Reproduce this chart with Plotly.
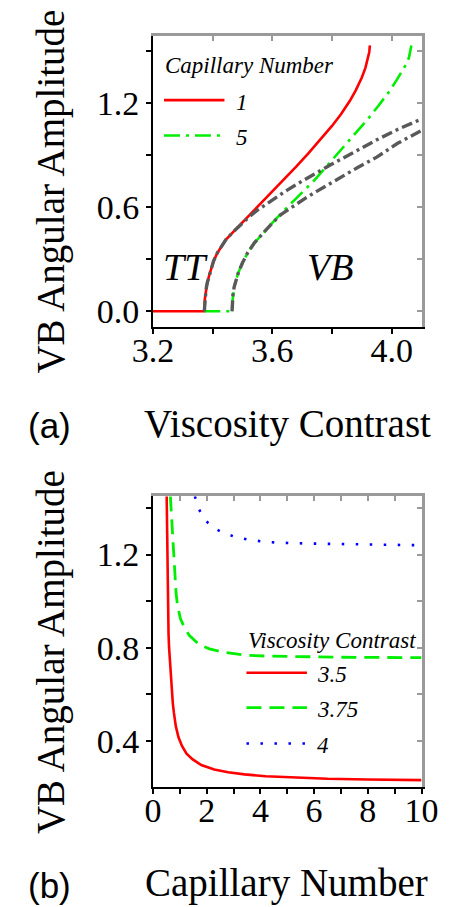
import plotly.graph_objects as go

# ---------------- data: panel (a) ----------------
ve_ca1 = [3.2, 3.372, 3.374, 3.378, 3.382, 3.388, 3.395, 3.403, 3.415, 3.43, 3.444, 3.47,
          3.495, 3.52, 3.547, 3.575, 3.6, 3.64, 3.68, 3.72, 3.76, 3.80, 3.83, 3.86, 3.88,
          3.90, 3.912, 3.92, 3.925, 3.927]
amp_ca1 = [0.0, 0.0, 0.074, 0.128, 0.165, 0.205, 0.245, 0.29, 0.335, 0.378, 0.413, 0.46,
           0.504, 0.548, 0.596, 0.645, 0.69, 0.762, 0.835, 0.91, 0.988, 1.07, 1.138, 1.215,
           1.277, 1.35, 1.405, 1.455, 1.497, 1.535]

ve_ca5 = [3.372, 3.465, 3.466, 3.468, 3.472, 3.478, 3.486, 3.5, 3.517, 3.54, 3.568, 3.6,
          3.63, 3.665, 3.702, 3.74, 3.774, 3.81, 3.846, 3.88, 3.918, 3.955, 3.99, 4.015,
          4.037, 4.05, 4.058, 4.063, 4.066]
amp_ca5 = [0.0, 0.0, 0.05, 0.095, 0.14, 0.18, 0.222, 0.28, 0.337, 0.395, 0.451, 0.51,
           0.566, 0.625, 0.685, 0.755, 0.822, 0.893, 0.963, 1.03, 1.105, 1.185, 1.265, 1.33,
           1.39, 1.43, 1.465, 1.50, 1.535]

ve_g1 = [3.372, 3.374, 3.378, 3.382, 3.388, 3.395, 3.403, 3.415, 3.43, 3.444, 3.47, 3.495,
         3.52, 3.55, 3.6, 3.65, 3.7, 3.75, 3.8, 3.886, 3.95, 4.02, 4.1]
amp_g1 = [0.0, 0.074, 0.128, 0.165, 0.205, 0.245, 0.29, 0.335, 0.378, 0.413, 0.46, 0.504,
          0.542, 0.584, 0.645, 0.70, 0.752, 0.802, 0.85, 0.93, 0.99, 1.05, 1.11]

ve_g2 = [3.465, 3.466, 3.468, 3.472, 3.478, 3.486, 3.5, 3.517, 3.54, 3.568, 3.6, 3.63,
         3.67, 3.71, 3.75, 3.8, 3.886, 3.95, 4.02, 4.1]
amp_g2 = [0.0, 0.05, 0.095, 0.14, 0.18, 0.222, 0.28, 0.337, 0.395, 0.451, 0.51, 0.56,
          0.608, 0.652, 0.694, 0.745, 0.83, 0.89, 0.97, 1.044]

# ---------------- data: panel (b) ----------------
ca_35 = [0.51, 0.52, 0.53, 0.546, 0.56, 0.58, 0.6, 0.625, 0.66, 0.705, 0.74, 0.78, 0.85,
         0.95, 1.08, 1.25, 1.48, 1.8, 2.28, 2.8, 3.41, 4.2, 5.3, 6.5, 8.0, 10.0]
amp_35 = [1.45, 1.32, 1.2, 1.036, 0.94, 0.86, 0.80, 0.75, 0.675, 0.607, 0.56, 0.52, 0.463,
          0.415, 0.378, 0.345, 0.32, 0.296, 0.277, 0.265, 0.256, 0.248, 0.242, 0.237,
          0.234, 0.231]

ca_375 = [0.648, 0.675, 0.705, 0.74, 0.78, 0.819, 0.86, 0.91, 0.96, 1.02, 1.14, 1.35,
          1.71, 2.1, 2.62, 3.41, 4.2, 5.5, 7.0, 8.5, 10.0]
amp_375 = [1.45, 1.40, 1.34, 1.24, 1.16, 1.10, 1.035, 0.985, 0.95, 0.925, 0.895, 0.853,
           0.814, 0.795, 0.781, 0.768, 0.764, 0.761, 0.759, 0.758, 0.757]

ca_4 = [1.56, 1.71, 1.85, 2.05, 2.25, 2.5, 2.98, 3.5, 4.2, 5.2, 6.5, 8.0, 10.0]
amp_4 = [1.45, 1.396, 1.362, 1.336, 1.315, 1.30, 1.279, 1.265, 1.254, 1.249, 1.246,
         1.243, 1.24]

legend_a_title = "Capillary Number"
legend_a_labels = ["1", "5"]
legend_b_title = "Viscosity Contrast"
legend_b_labels = ["3.5", "3.75", "4"]

RED = "#ff0000"
GREEN = "#00ee00"
BLUE = "#0000ff"
GRAY = "#595959"
FRAME = "#9a9a9a"
SERIF = "Liberation Serif"

fig = go.Figure()

# panel (a)
fig.add_trace(go.Scatter(x=ve_ca1, y=amp_ca1, mode="lines", xaxis="x", yaxis="y",
                         line=dict(color=RED, width=2.6), name=legend_a_labels[0]))
fig.add_trace(go.Scatter(x=ve_ca5, y=amp_ca5, mode="lines", xaxis="x", yaxis="y",
                         line=dict(color=GREEN, width=2.6, dash="16px,6px,3px,6px"),
                         name=legend_a_labels[1]))
fig.add_trace(go.Scatter(x=ve_g1, y=amp_g1, mode="lines", xaxis="x3", yaxis="y3",
                         line=dict(color=GRAY, width=3.4, dash="11px,4px,3px,4px"),
                         showlegend=False))
fig.add_trace(go.Scatter(x=ve_g2, y=amp_g2, mode="lines", xaxis="x3", yaxis="y3",
                         line=dict(color=GRAY, width=3.4, dash="11px,4px,3px,4px"),
                         showlegend=False))

# panel (b)
fig.add_trace(go.Scatter(x=ca_35, y=amp_35, mode="lines", xaxis="x2", yaxis="y2",
                         line=dict(color=RED, width=2.6), name=legend_b_labels[0]))
fig.add_trace(go.Scatter(x=ca_375, y=amp_375, mode="lines", xaxis="x2", yaxis="y2",
                         line=dict(color=GREEN, width=2.8, dash="15px,8px"),
                         name=legend_b_labels[1]))
fig.add_trace(go.Scatter(x=ca_4, y=amp_4, mode="lines", xaxis="x4", yaxis="y4",
                         line=dict(color=BLUE, width=2.6, dash="2.5px,11.5px"),
                         name=legend_b_labels[2]))

XD = [144 / 455, 437 / 455]
YDA = [1 - 328 / 907, 1 - 36 / 907]
YDB = [1 - 790 / 907, 1 - 498 / 907]

tickfont = dict(family=SERIF, size=34, color="black")


def main_axis(**kw):
    d = dict(showline=True, linecolor="black", linewidth=2, ticks="outside",
             ticklen=5, tickwidth=1.6, tickcolor="black", showgrid=False,
             zeroline=False, tickfont=tickfont, fixedrange=True)
    d.update(kw)
    return d


def frame_axis(**kw):
    d = dict(showline=True, linecolor=FRAME, linewidth=2.6, ticks="inside",
             ticklen=5, tickwidth=1.6, tickcolor=FRAME, showgrid=False,
             zeroline=False, showticklabels=False, fixedrange=True)
    d.update(kw)
    return d


RA_X = [3.2, 4.1]
RA_Y = [-0.09, 1.59]
RB_X = [0, 10]
RB_Y = [0.2, 1.45]

fig.update_layout(
    width=455, height=907,
    margin=dict(l=0, r=0, t=0, b=0),
    paper_bgcolor="white", plot_bgcolor="white",
    showlegend=False,
    xaxis=main_axis(domain=XD, anchor="y", range=RA_X, tickmode="array",
                    tickvals=[3.2, 3.6, 4.0], ticktext=["3.2", "3.6", "4.0"],
                    ticklabelstandoff=-13,
                    minor=dict(tickvals=[3.4, 3.8], ticks="outside", ticklen=5,
                               tickwidth=1.6, tickcolor="black")),
    yaxis=main_axis(domain=YDA, anchor="x", range=RA_Y, tickmode="array",
                    tickvals=[0.0, 0.6, 1.2], ticktext=["0.0", "0.6", "1.2"],
                    minor=dict(tickvals=[0.3, 0.9, 1.5], ticks="outside", ticklen=5,
                               tickwidth=1.6, tickcolor="black")),
    xaxis3=frame_axis(overlaying="x", anchor="y", side="top", range=RA_X,
                      tickmode="array", tickvals=[3.4, 3.6, 3.8, 4.0]),
    yaxis3=frame_axis(overlaying="y", anchor="x", side="right", range=RA_Y,
                      tickmode="array", tickvals=[0.0, 0.3, 0.6, 0.9, 1.2, 1.5]),
    xaxis2=main_axis(domain=XD, anchor="y2", range=RB_X, tickmode="array",
                     tickvals=[0, 2, 4, 6, 8, 10], ticklabelstandoff=-13,
                     minor=dict(tickvals=[1, 3, 5, 7, 9], ticks="outside", ticklen=5,
                                tickwidth=1.6, tickcolor="black")),
    yaxis2=main_axis(domain=YDB, anchor="x2", range=RB_Y, tickmode="array",
                     tickvals=[0.4, 0.8, 1.2], ticktext=["0.4", "0.8", "1.2"],
                     minor=dict(tickvals=[0.6, 1.0, 1.4], ticks="outside", ticklen=5,
                                tickwidth=1.6, tickcolor="black")),
    xaxis4=frame_axis(overlaying="x2", anchor="y2", side="top", range=RB_X,
                      tickmode="array", tickvals=[1, 2, 3, 4, 5, 6, 7, 8, 9]),
    yaxis4=frame_axis(overlaying="y2", anchor="x2", side="right", range=RB_Y,
                      tickmode="array", tickvals=[0.4, 0.6, 0.8, 1.0, 1.2, 1.4]),
)

ann = []
title_font = dict(family=SERIF, size=39, color="black")
for ytxt in [1 - 192 / 907, 1 - 654 / 907]:
    ann.append(dict(text="VB Angular Amplitude", x=33 / 455, y=ytxt, xref="paper",
                    yref="paper", textangle=-90, showarrow=False, font=title_font,
                    xanchor="center", yanchor="middle"))
ann.append(dict(text="Viscosity Contrast", x=291 / 455, y=1 - 425 / 907, xref="paper",
                yref="paper", showarrow=False, font=title_font, xanchor="center",
                yanchor="middle"))
ann.append(dict(text="Capillary Number", x=290 / 455, y=1 - 886 / 907, xref="paper",
                yref="paper", showarrow=False, font=title_font, xanchor="center",
                yanchor="middle"))
panel_font = dict(family="Liberation Sans", size=35, color="black")
ann.append(dict(text="(a)", x=31 / 455, y=1 - 427 / 907, xref="paper", yref="paper",
                showarrow=False, font=panel_font, xanchor="center", yanchor="middle"))
ann.append(dict(text="(b)", x=31 / 455, y=1 - 888 / 907, xref="paper", yref="paper",
                showarrow=False, font=panel_font, xanchor="center", yanchor="middle"))
# region labels
region_font = dict(family=SERIF, size=38, color="black")
ann.append(dict(text="<i>TT</i>", x=3.308, y=0.258, xref="x", yref="y", showarrow=False,
                font=region_font, xanchor="center", yanchor="middle"))
ann.append(dict(text="<i>VB</i>", x=3.794, y=0.258, xref="x", yref="y", showarrow=False,
                font=region_font, xanchor="center", yanchor="middle"))

# manual legends
leg_font = dict(family=SERIF, size=23, color="black")
shapes = []
ann.append(dict(text="<i>" + legend_a_title + "</i>", x=155 / 455, y=1 - 66 / 907,
                xref="paper", yref="paper", showarrow=False, font=leg_font,
                xanchor="left", yanchor="middle"))
leg_a_styles = [dict(color=RED, width=2.6), dict(color=GREEN, width=2.6, dash="16px,6px,3px,6px")]
leg_a_y = [100.5, 136]
for lab, sty, yy in zip(legend_a_labels, leg_a_styles, leg_a_y):
    shapes.append(dict(type="line", xref="paper", yref="paper", x0=156 / 455, x1=222 / 455,
                       y0=1 - yy / 907, y1=1 - yy / 907, line=sty))
    ann.append(dict(text="<i>" + lab + "</i>", x=232 / 455, y=1 - (yy + 2) / 907,
                    xref="paper", yref="paper", showarrow=False, font=leg_font,
                    xanchor="left", yanchor="middle"))

ann.append(dict(text="<i>" + legend_b_title + "</i>", x=246 / 455, y=1 - 643 / 907,
                xref="paper", yref="paper", showarrow=False, font=leg_font,
                xanchor="left", yanchor="middle"))
leg_b_styles = [dict(color=RED, width=2.6), dict(color=GREEN, width=2.8, dash="15px,8px"),
                dict(color=BLUE, width=2.6, dash="2.5px,11.5px")]
leg_b_y = [675, 710, 746]
for lab, sty, yy in zip(legend_b_labels, leg_b_styles, leg_b_y):
    shapes.append(dict(type="line", xref="paper", yref="paper", x0=246 / 455, x1=312 / 455,
                       y0=1 - yy / 907, y1=1 - yy / 907, line=sty))
    ann.append(dict(text="<i>" + lab + "</i>", x=321 / 455, y=1 - (yy + 2) / 907,
                    xref="paper", yref="paper", showarrow=False, font=leg_font,
                    xanchor="left", yanchor="middle"))

fig.update_layout(annotations=ann, shapes=shapes)
fig.write_html("out.html")
